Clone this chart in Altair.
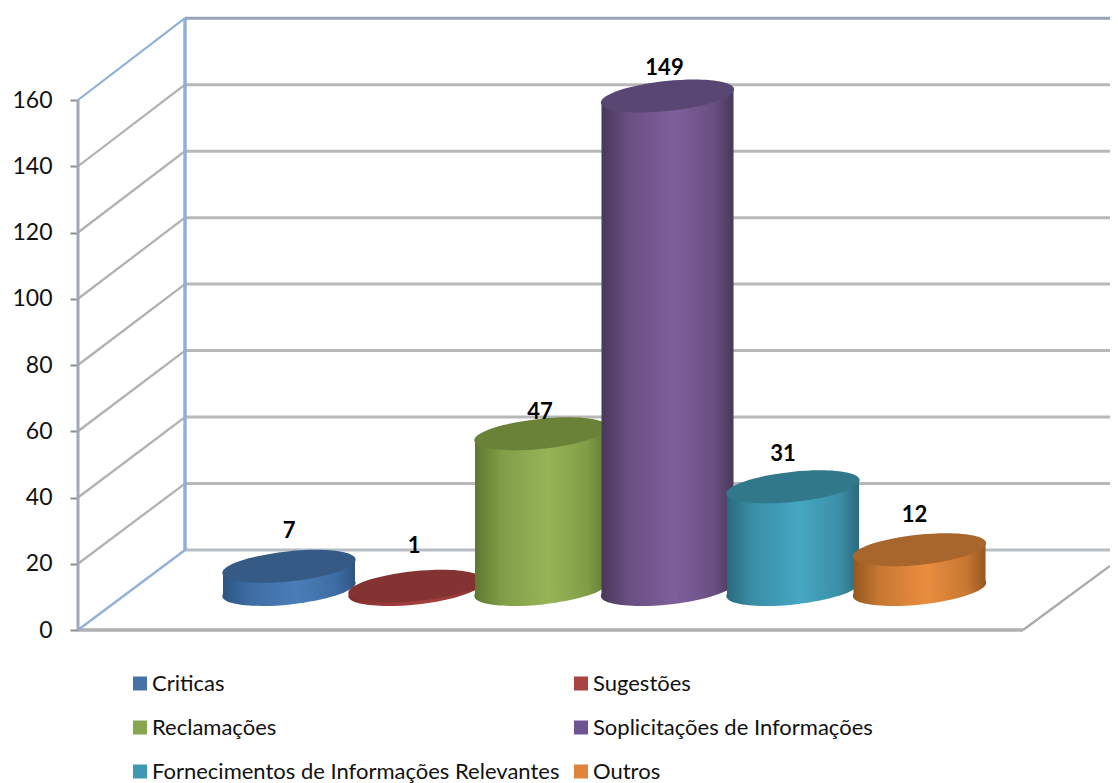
import altair as alt
import pandas as pd

# ---- values
categories = ["Criticas", "Sugestões", "Reclamações", "Soplicitações de Informações",
              "Fornecimentos de Informações Relevantes", "Outros"]
values = [7, 1, 47, 149, 31, 12]
ticks = [0, 20, 40, 60, 80, 100, 120, 140, 160]
centers = [289, 415, 541, 667.5, 793, 919.5]

legend_colors = ["#4672a8", "#a84442", "#87a64d", "#6f5494", "#3f99b2", "#df843a"]
top_colors = ["#355a85", "#843333", "#6a8238", "#5a4673", "#31788a", "#a9662c"]
light_colors = ["#4a7db8", "#a83f3f", "#96b556", "#7f5f9c", "#45a7c2", "#ea8d3f"]
dark_colors = ["#2d5583", "#7d2c2c", "#5f7831", "#483859", "#2a6a7d", "#955820"]
label_offsets = [(0, -35), (-1, -40), (-1, -22), (-3, -28), (-10, -33), (-5, -35)]

# ---- geometry of the 3-D box, in chart units
PX = 530 / 160          # pixels per value unit
YMAX = 622 / PX
BASE = 40.5 / PX        # cylinders stand part way into the floor
TILT = 6.8 / PX
HALF = 66
LEFT, BACK, FRONT_R, RIGHT = 78, 185, 1023, 1110
back = lambda v: v * 1.0034 + 24.15

xs = alt.Scale(domain=[LEFT, RIGHT], nice=False, zero=False)
ys = alt.Scale(domain=[0, YMAX], nice=False, zero=False)
X = alt.X("x:Q", scale=xs, axis=None)
Y = alt.Y("y:Q", scale=ys, title=None, axis=alt.Axis(
    values=ticks, grid=False, domain=False, tickColor="#8c8c8c", tickWidth=2,
    tickSize=8, labelPadding=18, labelFont="Lato", labelFontSize=23,
    labelColor="#111111"))

GRAY, GRAY2, BLUE = "#b8b8b8", "#b0b0b0", "#8fb0d6"
segs = []


def seg(name, p, q, color, width):
    for pt in (p, q):
        segs.append({"seg": name, "x": pt[0], "y": pt[1], "c": color, "w": width})


for t in ticks[1:-1]:
    seg(f"d{t}", (LEFT, t), (BACK, back(t)), GRAY2, 2.2)
    seg(f"b{t}", (BACK, back(t)), (RIGHT, back(t)), GRAY, 3)
seg("floorback", (BACK, back(0)), (RIGHT, back(0)), "#b8bcc4", 3)
seg("top", (BACK, back(160)), (RIGHT, back(160)), "#97a3b3", 3)
seg("floorfront", (LEFT, 0), (FRONT_R, 0), "#b0b0b0", 3.5)
seg("floorright", (FRONT_R, 0), (RIGHT, 64 / PX), "#a8a8a8", 2.2)
seg("leftfront", (LEFT, 0), (LEFT, 160), "#a2a8b0", 3)
seg("d0", (LEFT, 0), (BACK, back(0)), BLUE, 2.2)
seg("d160", (LEFT, 160), (BACK, back(160)), BLUE, 2.2)
seg("backleft", (BACK, back(0)), (BACK, back(160)), BLUE, 3.5)

walls = alt.Chart(pd.DataFrame(segs)).mark_line().encode(
    x=X, y=Y, detail="seg:N",
    stroke=alt.Stroke("c:N", scale=None),
    strokeWidth=alt.StrokeWidth("w:Q", scale=None),
)

# ellipse outline (unit half-axis 1, scaled by the symbol size), tilted via angle
RY = 15 / 67
K = 0.5523
ELLIPSE = (
    f"M -1 0 C -1 {-K*RY:.4f} {-K:.4f} {-RY:.4f} 0 {-RY:.4f} "
    f"C {K:.4f} {-RY:.4f} 1 {-K*RY:.4f} 1 0 "
    f"C 1 {K*RY:.4f} {K:.4f} {RY:.4f} 0 {RY:.4f} "
    f"C {-K:.4f} {RY:.4f} -1 {K*RY:.4f} -1 0 Z"
)
E_SIZE = (2 * 67) ** 2


def mix(a, b, f):
    pa = [int(a[i:i + 2], 16) for i in (1, 3, 5)]
    pb = [int(b[i:i + 2], 16) for i in (1, 3, 5)]
    return "#%02x%02x%02x" % tuple(round(u + (v - u) * f) for u, v in zip(pa, pb))


def cylinder(i):
    cx, v = centers[i], values[i]
    light, dark = light_colors[i], dark_colors[i]
    grad = alt.LinearGradient(
        gradient="linear", x1=0, x2=1, y1=0, y2=0,
        stops=[
            alt.GradientStop(offset=0, color=dark),
            alt.GradientStop(offset=0.2, color=mix(dark, light, 0.6)),
            alt.GradientStop(offset=0.55, color=light),
            alt.GradientStop(offset=0.85, color=mix(dark, light, 0.6)),
            alt.GradientStop(offset=1, color=dark),
        ],
    )
    base_pt = pd.DataFrame({"x": [cx], "y": [BASE]})
    top_pt = pd.DataFrame({"x": [cx], "y": [BASE + v]})
    side = pd.DataFrame({
        "x": [cx - HALF, cx + HALF],
        "y": [BASE + v - TILT, BASE + v + TILT],
        "y2": [BASE - TILT, BASE + TILT],
    })
    dx, dy = label_offsets[i]
    return [
        alt.Chart(base_pt).mark_point(
            shape=ELLIPSE, size=E_SIZE, angle=354, filled=True, fill=grad,
            opacity=1, strokeWidth=0).encode(x=X, y=Y),
        alt.Chart(side).mark_area(color=grad, opacity=1).encode(x=X, y=Y, y2="y2:Q"),
        alt.Chart(top_pt).mark_point(
            shape=ELLIPSE, size=E_SIZE, angle=354, filled=True, fill=top_colors[i],
            opacity=1, strokeWidth=0).encode(x=X, y=Y),
    ], alt.Chart(top_pt.assign(v=v)).mark_text(
        font="Lato", fontSize=22, fontWeight="bold", color="#000000", dx=dx, dy=dy,
    ).encode(x=X, y=Y, text="v:Q")


layers, labels = [], []
for i in range(len(values)):
    parts, lab = cylinder(i)
    layers += parts
    labels.append(lab)

legend_layer = alt.Chart(pd.DataFrame({"cat": categories, "x": centers, "y": values})).mark_square(
    size=0, opacity=1).encode(
    x=X, y=Y,
    color=alt.Color("cat:N", scale=alt.Scale(domain=categories, range=legend_colors),
                    sort=categories,
                    legend=alt.Legend(
                        title=None, orient="none", legendX=51, legendY=664.5, direction="horizontal",
                        columns=2, gridAlign="each", columnPadding=10, rowPadding=22, padding=0,
                        symbolType="square", symbolSize=196, symbolStrokeWidth=0, symbolOpacity=1,
                        labelFont="Lato", labelFontSize=22, labelColor="#111111", labelOffset=1,
                        labelLimit=500)),
)

chart = alt.layer(walls, *layers, *labels, legend_layer).properties(
    width=1032, height=622,
    padding={"left": 70, "top": 0, "right": 0, "bottom": 160},
    autosize=alt.AutoSizeParams(type="none"),
    background="white",
).configure_view(stroke=None)

chart.save("out.html", embed_options={"renderer": "svg", "actions": False})
